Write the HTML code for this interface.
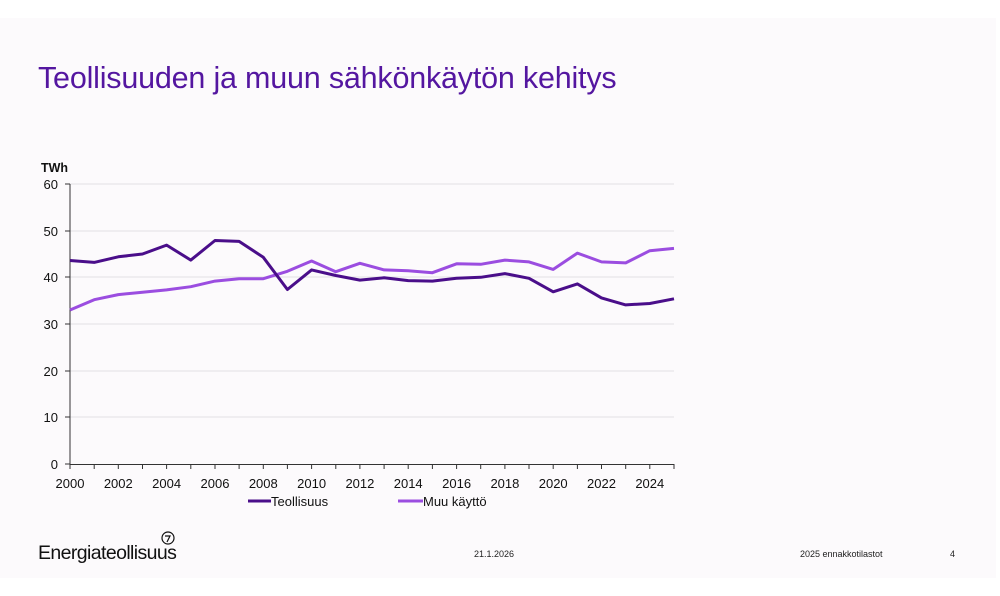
<!DOCTYPE html>
<html><head><meta charset="utf-8"><style>
html,body{margin:0;padding:0;background:#fff;}
body{width:1000px;height:596px;position:relative;overflow:hidden;font-family:"Liberation Sans",sans-serif;}
.slide{position:absolute;left:0;top:18px;width:996px;height:560px;background:#fcfafc;}
.title{position:absolute;left:38px;top:61px;font-size:30.5px;color:#5416a0;letter-spacing:-0.2px;}
svg{position:absolute;left:0;top:0;}
</style></head><body>
<div class="slide"></div>
<div class="title">Teollisuuden ja muun sähkönkäytön kehitys</div>
<svg width="1000" height="596" font-family="Liberation Sans, sans-serif">
<g stroke="#e2e0e4" stroke-width="1">
<line x1="70" x2="674" y1="184" y2="184"/><line x1="70" x2="674" y1="231" y2="231"/>
<line x1="70" x2="674" y1="277" y2="277"/><line x1="70" x2="674" y1="324" y2="324"/>
<line x1="70" x2="674" y1="371" y2="371"/><line x1="70" x2="674" y1="417" y2="417"/>
</g>
<g stroke="#333" stroke-width="1">
<line x1="70" x2="70" y1="184" y2="464"/><line x1="70" x2="674" y1="464.5" y2="464.5"/>
<line x1="65" x2="70" y1="184" y2="184"/><line x1="65" x2="70" y1="231" y2="231"/><line x1="65" x2="70" y1="277" y2="277"/><line x1="65" x2="70" y1="324" y2="324"/><line x1="65" x2="70" y1="371" y2="371"/><line x1="65" x2="70" y1="417" y2="417"/><line x1="65" x2="70" y1="464" y2="464"/>
<path d="M70 464v5M94.2 464v5M118.3 464v5M142.5 464v5M166.6 464v5M190.8 464v5M215 464v5M239.1 464v5M263.3 464v5M287.4 464v5M311.6 464v5M335.8 464v5M359.9 464v5M384.1 464v5M408.2 464v5M432.4 464v5M456.6 464v5M480.7 464v5M504.9 464v5M529 464v5M553.2 464v5M577.4 464v5M601.5 464v5M625.7 464v5M649.8 464v5M674 464v5"/>
</g>
<text x="41" y="172" font-size="12.5" font-weight="bold" fill="#111">TWh</text>
<g font-size="13" fill="#111" text-anchor="end">
<text x="58" y="189">60</text><text x="58" y="236">50</text><text x="58" y="282">40</text><text x="58" y="329">30</text><text x="58" y="376">20</text><text x="58" y="422">10</text><text x="58" y="469">0</text>
</g>
<g font-size="13" fill="#111" text-anchor="middle">
<text x="70" y="488">2000</text><text x="118.3" y="488">2002</text><text x="166.6" y="488">2004</text><text x="215" y="488">2006</text><text x="263.3" y="488">2008</text><text x="311.6" y="488">2010</text><text x="359.9" y="488">2012</text><text x="408.2" y="488">2014</text><text x="456.6" y="488">2016</text><text x="504.9" y="488">2018</text><text x="553.2" y="488">2020</text><text x="601.5" y="488">2022</text><text x="649.8" y="488">2024</text>
</g>
<polyline fill="none" stroke="#9b4de0" stroke-width="3" stroke-linejoin="round" points="70,310 94.2,299.7 118.3,294.6 142.5,292.3 166.6,289.9 190.8,286.7 215,281.1 239.1,278.7 263.3,278.7 287.4,271.3 311.6,261 335.8,271.7 359.9,263.3 384.1,269.9 408.2,270.8 432.4,272.7 456.6,263.8 480.7,264.3 504.9,260.1 529,261.9 553.2,269.4 577.4,253.1 601.5,261.9 625.7,262.9 649.8,250.7 674,248.4"/>
<polyline fill="none" stroke="#4a0e8a" stroke-width="3" stroke-linejoin="round" points="70,260.5 94.2,262.4 118.3,256.8 142.5,254 166.6,245.1 190.8,260.1 215,240.5 239.1,241.4 263.3,257.3 287.4,289.5 311.6,269.9 335.8,275.5 359.9,280.1 384.1,277.8 408.2,280.6 432.4,281.1 456.6,278.3 480.7,277.3 504.9,273.6 529,278.3 553.2,291.8 577.4,283.9 601.5,297.9 625.7,304.9 649.8,303.5 674,298.8"/>
<line x1="248" x2="271" y1="501" y2="501" stroke="#4a0e8a" stroke-width="3"/>
<text x="271" y="506" font-size="13" fill="#111">Teollisuus</text>
<line x1="398" x2="423" y1="501" y2="501" stroke="#9b4de0" stroke-width="3"/>
<text x="423" y="506" font-size="13" fill="#111">Muu käyttö</text>
<text x="38" y="559" font-size="19.5" fill="#111" letter-spacing="-0.6">Energiateollisuus</text>
<circle cx="168" cy="538" r="6" fill="none" stroke="#111" stroke-width="1.2"/>
<path d="M165 536h5l-3 6" fill="none" stroke="#111" stroke-width="1.2"/>
<text x="474" y="557" font-size="9" fill="#222">21.1.2026</text>
<text x="800" y="557" font-size="9" fill="#222">2025 ennakkotilastot</text>
<text x="950" y="557" font-size="9" fill="#222">4</text>
</svg>
</body></html>
